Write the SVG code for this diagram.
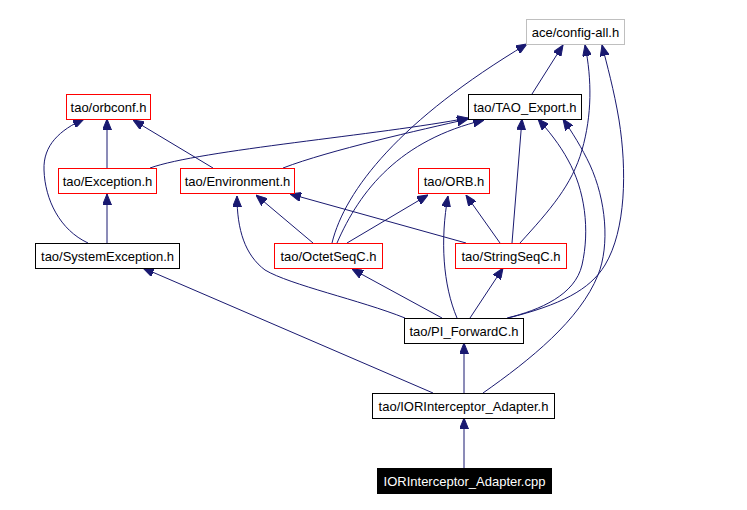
<svg xmlns="http://www.w3.org/2000/svg" width="747" height="510" viewBox="0 0 747 510">
<style>
.n rect{fill:#fff;stroke:#000;stroke-width:1}
.n.r rect{stroke:#ff0000}
.n.g rect{stroke:#bfbfbf}
.n.b rect{fill:#000}
.n text{font-family:"Liberation Sans",Arial,sans-serif;font-size:13px;fill:#000;text-anchor:middle}
.n.b text{fill:#fff}
#edges path{fill:none;stroke:#191970;stroke-width:1;marker-end:url(#ah)}
</style>
<defs>
<marker id="ah" viewBox="0 0 11 9" refX="11" refY="4.5" markerWidth="11" markerHeight="9" markerUnits="userSpaceOnUse" orient="auto">
<path d="M0,0 L11,4.5 L0,9 z" fill="#191970" stroke="#191970"/>
</marker>
</defs>
<rect width="747" height="510" fill="#fff"/>
<g id="edges">
<path d="M532,94 L563,45"/>
<path d="M332,243 C345,190 400,120 527,44"/>
<path d="M520,243 C550,210 572,185 582,150 C592,115 592,80 585,45"/>
<path d="M508,318 C560,305 590,290 605,265 C626,230 627,170 619,120 C614,90 607,65 602,45"/>
<path d="M107,168 L107,119"/>
<path d="M213,168 L133,120"/>
<path d="M88,243 C60,230 45,200 44,170 C43,145 60,130 84,119"/>
<path d="M150,168 C200,150 380,135 468,118"/>
<path d="M283,168 C330,150 420,130 468,119"/>
<path d="M337,243 C360,190 400,140 484,120"/>
<path d="M512,243 L522,119"/>
<path d="M507,318 C540,310 575,295 582,265 C590,230 585,190 568,160 C560,145 548,130 538,119"/>
<path d="M483,393 C530,360 580,320 598,275 C610,245 606,200 590,165 C582,148 572,132 563,119"/>
<path d="M107,243 L107,194"/>
<path d="M313,243 L256,195"/>
<path d="M466,243 L290,194"/>
<path d="M405,318 C360,300 290,285 265,270 C245,255 237,230 237,196"/>
<path d="M347,243 L428,195"/>
<path d="M500,243 L466,195"/>
<path d="M457,318 C443,285 440,240 448,196"/>
<path d="M442,318 L352,269"/>
<path d="M470,318 L503,268"/>
<path d="M464,393 L464,343"/>
<path d="M433,393 L143,268"/>
<path d="M464,468 L464,418"/>
</g>
<g id="config-all" class="n g"><rect x="526.5" y="19.5" width="98" height="25"/><text x="575.5" y="36.5">ace/config-all.h</text></g>
<g id="TAO_Export" class="n"><rect x="468.5" y="94.5" width="113" height="25"/><text x="525" y="111.5">tao/TAO_Export.h</text></g>
<g id="orbconf" class="n r"><rect x="66.5" y="94.5" width="84" height="25"/><text x="108.5" y="111.5">tao/orbconf.h</text></g>
<g id="Exception" class="n r"><rect x="58.5" y="168.5" width="98" height="25"/><text x="107.5" y="185.5">tao/Exception.h</text></g>
<g id="Environment" class="n r"><rect x="180.5" y="168.5" width="114" height="25"/><text x="237.5" y="185.5">tao/Environment.h</text></g>
<g id="ORB" class="n r"><rect x="418.5" y="168.5" width="71" height="25"/><text x="454" y="185.5">tao/ORB.h</text></g>
<g id="SystemException" class="n"><rect x="35.5" y="243.5" width="144" height="25"/><text x="107.5" y="260.5">tao/SystemException.h</text></g>
<g id="OctetSeqC" class="n r"><rect x="274.5" y="243.5" width="108" height="25"/><text x="328.5" y="260.5">tao/OctetSeqC.h</text></g>
<g id="StringSeqC" class="n r"><rect x="455.5" y="243.5" width="111" height="25"/><text x="511" y="260.5">tao/StringSeqC.h</text></g>
<g id="PI_ForwardC" class="n"><rect x="404.5" y="318.5" width="119" height="25"/><text x="464" y="335.5">tao/PI_ForwardC.h</text></g>
<g id="IORInterceptor_Adapter_h" class="n"><rect x="372.5" y="393.5" width="182" height="25"/><text x="463.5" y="410.5">tao/IORInterceptor_Adapter.h</text></g>
<g id="IORInterceptor_Adapter_cpp" class="n b"><rect x="377.5" y="468.5" width="174" height="25"/><text x="464.5" y="485.5">IORInterceptor_Adapter.cpp</text></g>
</svg>
